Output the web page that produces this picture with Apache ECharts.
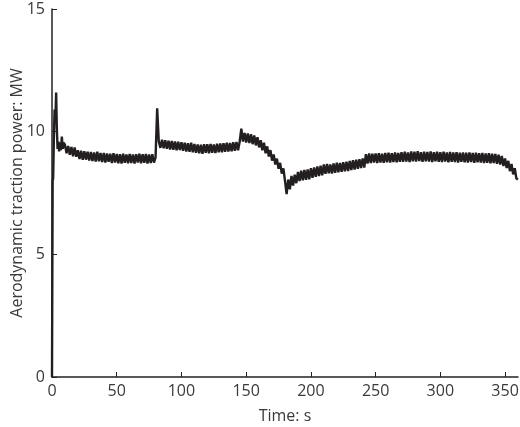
<!DOCTYPE html>
<html>
<head>
<meta charset="utf-8">
<script src="https://cdn.jsdelivr.net/npm/echarts@6/dist/echarts.min.js"></script>
<style>
  html, body { margin: 0; padding: 0; background: #fff; }
  #chart { width: 520px; height: 427px; }
</style>
</head>
<body>
<div id="chart"></div>
<script>
  // start-up transient, read point by point
  var startTimeS = [0, 0.1, 0.5, 0.9, 1.4, 2.0, 2.6, 3.2, 3.7, 4.3, 4.9, 5.5, 6.2, 6.9, 7.6, 8.3, 9.0];
  var startPowerMW = [0, 0, 8.0, 8.1, 9.6, 10.9, 10.5, 11.6, 10.2, 9.3, 9.6, 9.2, 9.55, 9.25, 9.8, 9.3, 9.55];

  // logged samples from 10 s onwards, one every 1.25 s
  var cruiseStartS = 10;
  var sampleStepS = 1.25;
  var cruisePowerMW = [
    9.46, 9.12, 9.42, 9.06, 9.38, 9.00, 9.36, 8.98,   // 10
    9.24, 8.88, 9.22, 8.85, 9.20, 8.86, 9.18, 8.82,   // 20
    9.17, 8.80, 9.15, 8.78, 9.18, 8.79, 9.13, 8.76,   // 30
    9.13, 8.74, 9.11, 8.77, 9.10, 8.72, 9.12, 8.74,   // 40
    9.09, 8.71, 9.08, 8.70, 9.10, 8.73, 9.07, 8.71,   // 50
    9.09, 8.72, 9.07, 8.70, 9.08, 8.74, 9.10, 8.71,   // 60
    9.08, 8.73, 9.09, 8.70, 9.07, 8.72, 9.08, 8.74,   // 70
    8.95, 10.95, 9.60, 9.34, 9.67, 9.32, 9.65, 9.30,  // 80
    9.63, 9.27, 9.62, 9.26, 9.60, 9.24, 9.59, 9.25,   // 90
    9.57, 9.22, 9.55, 9.19, 9.53, 9.18, 9.55, 9.16,   // 100
    9.50, 9.14, 9.48, 9.12, 9.47, 9.10, 9.49, 9.14,   // 110
    9.49, 9.12, 9.50, 9.14, 9.48, 9.13, 9.51, 9.16,   // 120
    9.52, 9.16, 9.53, 9.18, 9.55, 9.19, 9.54, 9.20,   // 130
    9.57, 9.22, 9.58, 9.24, 9.60, 10.12, 9.60, 9.95,  // 140
    9.56, 9.93, 9.54, 9.90, 9.49, 9.85, 9.44, 9.77,   // 150
    9.36, 9.65, 9.24, 9.55, 9.12, 9.40, 8.99, 9.25,   // 160
    8.82, 9.07, 8.66, 8.90, 8.49, 8.73, 8.29, 8.50,   // 170
    8.00, 7.45, 8.05, 7.65, 8.20, 7.80, 8.25, 7.90,   // 180
    8.36, 7.99, 8.41, 8.02, 8.44, 8.04, 8.46, 8.06,   // 190
    8.51, 8.12, 8.54, 8.16, 8.58, 8.19, 8.61, 8.22,   // 200
    8.66, 8.28, 8.68, 8.30, 8.66, 8.29, 8.70, 8.32,   // 210
    8.74, 8.34, 8.72, 8.36, 8.76, 8.38, 8.78, 8.39,   // 220
    8.81, 8.44, 8.84, 8.46, 8.86, 8.49, 8.88, 8.52,   // 230
    8.91, 8.54, 9.08, 8.70, 9.11, 8.72, 9.10, 8.74,   // 240
    9.11, 8.72, 9.12, 8.74, 9.10, 8.73, 9.13, 8.75,   // 250
    9.14, 8.74, 9.12, 8.76, 9.15, 8.75, 9.13, 8.77,   // 260
    9.16, 8.77, 9.18, 8.78, 9.15, 8.76, 9.19, 8.79,   // 270
    9.18, 8.78, 9.20, 8.80, 9.16, 8.77, 9.18, 8.79,   // 280
    9.17, 8.78, 9.19, 8.76, 9.16, 8.79, 9.18, 8.77,   // 290
    9.16, 8.76, 9.18, 8.78, 9.15, 8.75, 9.17, 8.77,   // 300
    9.15, 8.76, 9.16, 8.74, 9.14, 8.77, 9.15, 8.75,   // 310
    9.14, 8.74, 9.15, 8.76, 9.13, 8.73, 9.14, 8.75,   // 320
    9.12, 8.74, 9.13, 8.72, 9.11, 8.73, 9.12, 8.71,   // 330
    9.10, 8.72, 9.09, 8.69, 9.06, 8.66, 9.01, 8.60,   // 340
    8.91, 8.52, 8.81, 8.39, 8.68, 8.26, 8.51, 8.09,   // 350
    8.05                                              // 360
  ];

  var xTicks = { min: 0, max: 360, interval: 50 };
  var yTicks = { min: 0, max: 15, interval: 5 };

  var points = [];
  startTimeS.forEach(function (t, i) {
    points.push([t, startPowerMW[i]]);
  });
  cruisePowerMW.forEach(function (v, i) {
    points.push([cruiseStartS + i * sampleStepS, v]);
  });

  var textColor = "#3a3a3a";
  var font = "'Open Sans', 'DejaVu Sans', sans-serif";

  var chart = echarts.init(document.getElementById("chart"));
  chart.setOption({
    animation: false,
    grid: { left: 52, right: 2, top: 9, bottom: 50, containLabel: false, outerBoundsMode: "none" },
    xAxis: {
      type: "value",
      min: xTicks.min,
      max: xTicks.max,
      interval: xTicks.interval,
      name: "Time: s",
      nameLocation: "middle",
      nameGap: 31,
      nameMoveOverlap: false,
      nameTextStyle: { color: textColor, fontSize: 16, fontFamily: font },
      axisLine: { lineStyle: { color: "#222", width: 1.5 } },
      axisTick: { inside: true, length: 5, lineStyle: { color: "#222" } },
      axisLabel: { color: textColor, fontSize: 16, fontFamily: font, margin: 6, showMaxLabel: false },
      splitLine: { show: false }
    },
    yAxis: {
      type: "value",
      min: yTicks.min,
      max: yTicks.max,
      interval: yTicks.interval,
      name: "Aerodynamic traction power: MW",
      nameLocation: "middle",
      nameGap: 27,
      nameMoveOverlap: false,
      nameTextStyle: { color: textColor, fontSize: 16, fontFamily: font },
      axisLine: { show: true, lineStyle: { color: "#222", width: 1.5 } },
      axisTick: { show: true, inside: true, length: 5, lineStyle: { color: "#222" } },
      axisLabel: { color: textColor, fontSize: 16, fontFamily: font, margin: 7 },
      splitLine: { show: false }
    },
    series: [{
      type: "line",
      data: points,
      showSymbol: false,
      lineStyle: { color: "#231f20", width: 2.4 },
      clip: true
    }]
  });
</script>
</body>
</html>
